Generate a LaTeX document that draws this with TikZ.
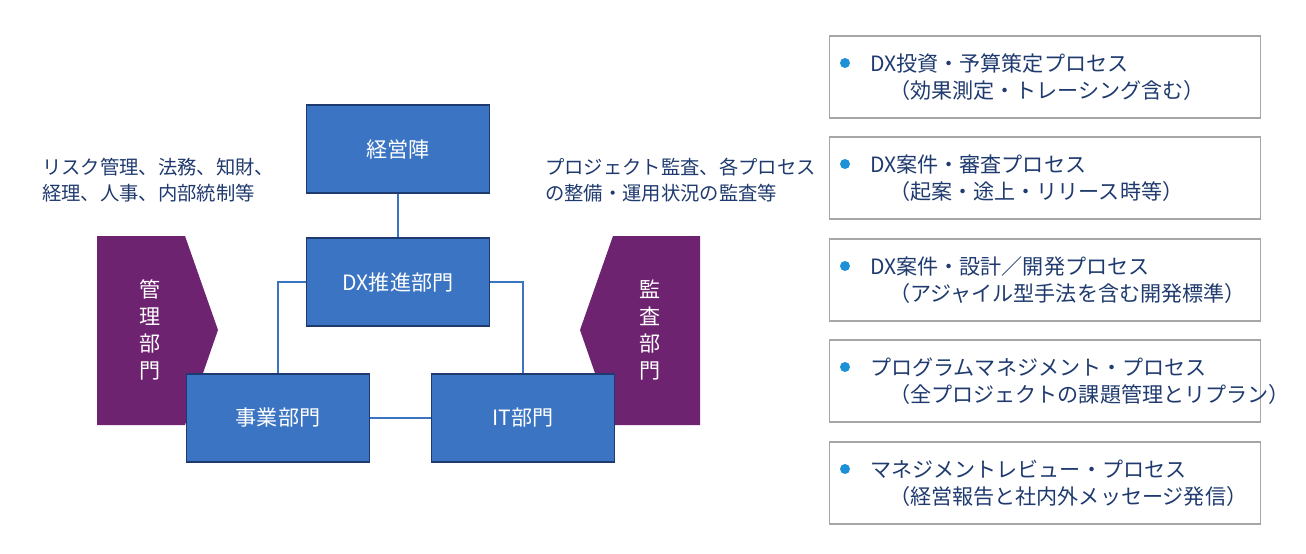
\documentclass[tikz,border=0pt]{standalone}
\usepackage{fontspec}
\setmainfont{Noto Sans CJK JP}
\usepackage{tikz}
\definecolor{boxblue}{HTML}{3A74C2}
\definecolor{navy}{HTML}{1F3A6E}
\definecolor{purp}{HTML}{6E2370}
\definecolor{dotblue}{HTML}{1E90D8}
\tikzset{
  org/.style={draw=navy, line width=0.9pt, fill=boxblue, text=white,
    minimum width=3.66cm, minimum height=1.76cm, font=\fontsize{12}{14}\selectfont},
  link/.style={draw=boxblue, line width=0.7pt},
  note/.style={text=navy, anchor=west, align=left, font=\fontsize{11}{15}\selectfont},
  proc/.style={draw=gray!70, line width=0.7pt, minimum width=8.62cm, minimum height=1.64cm},
  ptext/.style={text=navy, anchor=west, align=left, font=\fontsize{12}{15.5}\selectfont}
}
\begin{document}
\begin{tikzpicture}[x=0.02cm, y=-0.02cm]
    \useasboundingbox (0,0) rectangle (1306,554);
    % side departments
    \fill [purp] (97,236) -- (185,236) -- (218,330) -- (185,425) -- (97,425) -- cycle;
    \fill [purp] (613,236) -- (700,236) -- (700,425) -- (613,425) -- (580,330) -- cycle;
    \node [text=white, align=center, font=\fontsize{12}{15.5}\selectfont] (kanri) at (150,330){管\\理\\部\\門};
    \node [text=white, align=center, font=\fontsize{12}{15.5}\selectfont] (kansa) at (650,330){監\\査\\部\\門};

    \node [org] (keiei) at (398,149){経営陣};
    \node [org] (dx) at (398,282){DX推進部門};
    \node [org] (jigyo) at (278,418){事業部門};
    \node [org] (it) at (523,418){IT部門};

    \draw [link] (keiei) -- (dx);
    \draw [link] (dx.west) -| (jigyo.north);
    \draw [link] (dx.east) -| (it.north);
    \draw [link] (jigyo) -- (it);

    \node [note] (kanrinote) at (36,180){リスク管理、法務、知財、\\経理、人事、内部統制等};
    \node [note] (kansanote) at (539,180){プロジェクト監査、各プロセス\\の整備・運用状況の監査等};

    % process list
    \foreach \y/\a/\b [count=\i] in {
        77/DX投資・予算策定プロセス/（効果測定・トレーシング含む）,
        178/DX案件・審査プロセス/（起案・途上・リリース時等）,
        280/DX案件・設計／開発プロセス/（アジャイル型手法を含む開発標準）,
        381/プログラムマネジメント・プロセス/（全プロジェクトの課題管理とリプラン）,
        483/マネジメントレビュー・プロセス/（経営報告と社内外メッセージ発信）} {
        \node [proc] (p\i) at (1045,\y){};
        \fill [dotblue] (845,\y-14) circle [radius=5];
        \node [ptext] (t\i) at (864,\y){\a\\\hspace{0.9em}\b};
    }
\end{tikzpicture}
\end{document}
